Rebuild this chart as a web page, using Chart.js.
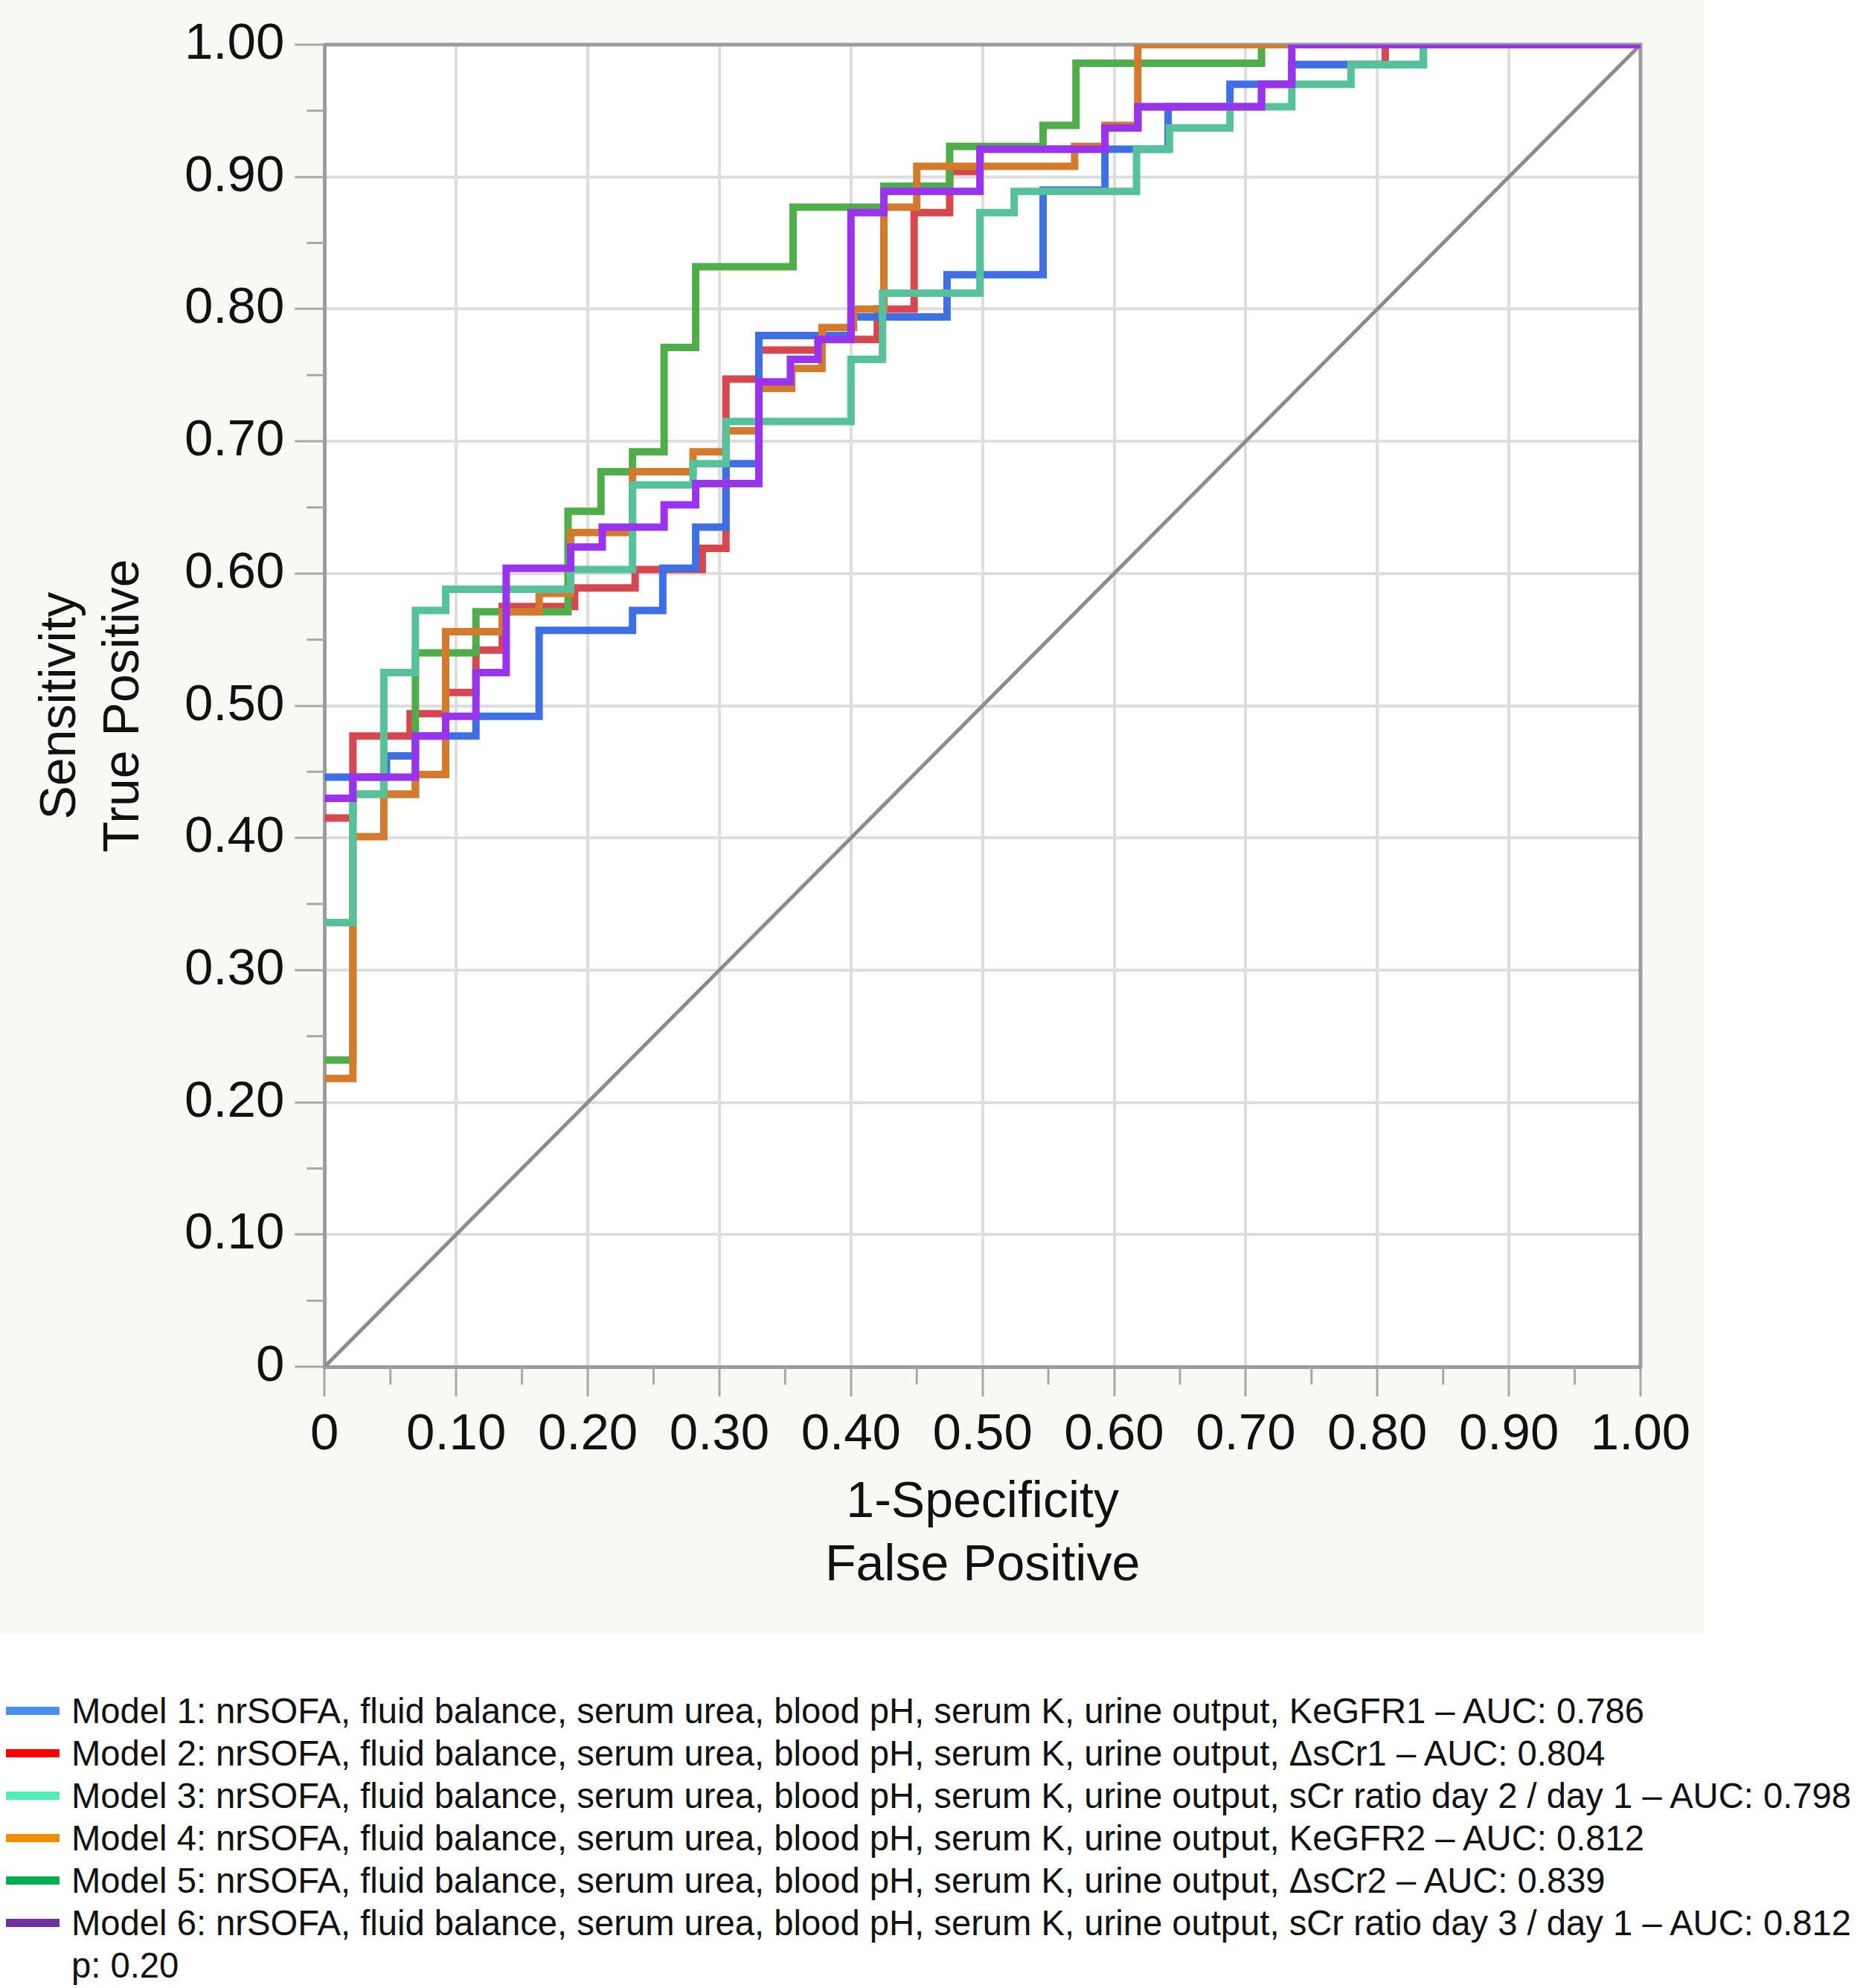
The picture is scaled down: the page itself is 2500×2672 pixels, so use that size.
<!DOCTYPE html>
<html>
<head>
<meta charset="utf-8">
<script src="https://cdn.jsdelivr.net/npm/chart.js@4.4.1/dist/chart.umd.min.js"></script>
<style>
  body { margin: 0; background: #fff; width: 2500px; height: 2672px; position: relative; font-family: "Liberation Sans", Arial, sans-serif; }
  #wrap { position: absolute; left: 0; top: 0; width: 2290px; height: 2195px; }
  #legend { position: absolute; left: 8px; top: 2271px; font-size: 47.2px; color: #111; }
  .legend-row { height: 57px; line-height: 57px; white-space: nowrap; display: flex; align-items: center; }
  .legend-swatch { display: inline-block; width: 72px; height: 11px; margin-right: 16px; }
  .legend-pad { display: inline-block; width: 88px; }
</style>
</head>
<body>
<div id="wrap"><canvas id="roc" width="2290" height="2195"></canvas></div>
<div id="legend"></div>
<script>
// ROC step curves: each x is where a horizontal run at y starts
const m1X = [0, 0.047, 0.069, 0.115, 0.163, 0.234, 0.257, 0.282, 0.305, 0.33, 0.40, 0.473, 0.546, 0.593, 0.641, 0.688, 0.735, 0.835, 1.0];
const m1Y = [0.446, 0.462, 0.477, 0.492, 0.557, 0.572, 0.604, 0.635, 0.683, 0.78, 0.794, 0.826, 0.89, 0.921, 0.953, 0.97, 0.985, 1.0, 1.0];

const m2X = [0, 0.0215, 0.065, 0.092, 0.115, 0.135, 0.19, 0.236, 0.287, 0.305, 0.33, 0.375, 0.42, 0.448, 0.475, 0.498, 0.593, 0.618, 0.712, 0.735, 0.806, 1.0];
const m2Y = [0.415, 0.477, 0.494, 0.51, 0.542, 0.575, 0.589, 0.603, 0.619, 0.747, 0.769, 0.777, 0.8, 0.873, 0.904, 0.921, 0.937, 0.953, 0.97, 0.985, 1.0, 1.0];

const m3X = [0, 0.0215, 0.045, 0.069, 0.092, 0.187, 0.234, 0.28, 0.305, 0.40, 0.424, 0.498, 0.524, 0.617, 0.642, 0.688, 0.735, 0.78, 0.835, 1.0];
const m3Y = [0.336, 0.433, 0.525, 0.572, 0.588, 0.603, 0.667, 0.683, 0.715, 0.762, 0.812, 0.873, 0.889, 0.921, 0.937, 0.953, 0.97, 0.985, 1.0, 1.0];

const m4X = [0, 0.0215, 0.045, 0.069, 0.092, 0.135, 0.163, 0.187, 0.234, 0.28, 0.305, 0.33, 0.355, 0.378, 0.402, 0.425, 0.45, 0.57, 0.593, 0.618, 1.0];
const m4Y = [0.218, 0.401, 0.433, 0.448, 0.556, 0.571, 0.585, 0.631, 0.677, 0.692, 0.708, 0.74, 0.755, 0.786, 0.8, 0.877, 0.908, 0.923, 0.939, 1.0, 1.0];

const m5X = [0, 0.0215, 0.069, 0.115, 0.185, 0.21, 0.234, 0.258, 0.282, 0.356, 0.425, 0.475, 0.546, 0.571, 0.712, 1.0];
const m5Y = [0.232, 0.433, 0.54, 0.571, 0.647, 0.677, 0.692, 0.771, 0.832, 0.877, 0.893, 0.923, 0.939, 0.986, 1.0, 1.0];

const m6X = [0, 0.0215, 0.069, 0.092, 0.115, 0.138, 0.187, 0.211, 0.258, 0.282, 0.33, 0.354, 0.375, 0.40, 0.425, 0.498, 0.593, 0.618, 0.712, 0.735, 1.0];
const m6Y = [0.43, 0.446, 0.477, 0.492, 0.525, 0.604, 0.62, 0.635, 0.652, 0.668, 0.745, 0.762, 0.777, 0.873, 0.889, 0.921, 0.937, 0.953, 0.97, 1.0, 1.0];

const refX = [0, 1];
const refY = [0, 1];

const lineColors = ["#3f6fe4", "#d8474d", "#56c29c", "#d47a2c", "#4fae4a", "#9a33ee"];
const swatchColors = ["#4a8ef2", "#ff0000", "#4cf0b4", "#f28c00", "#00b050", "#7030a0"];
const drawOrder = [3, 5, 1, 2, 4, 0];

const legendLabels = [
  "Model 1: nrSOFA, fluid balance, serum urea, blood pH, serum K, urine output, KeGFR1 – AUC: 0.786",
  "Model 2: nrSOFA, fluid balance, serum urea, blood pH, serum K, urine output, ΔsCr1 – AUC: 0.804",
  "Model 3: nrSOFA, fluid balance, serum urea, blood pH, serum K, urine output, sCr ratio day 2 / day 1 – AUC: 0.798",
  "Model 4: nrSOFA, fluid balance, serum urea, blood pH, serum K, urine output, KeGFR2 – AUC: 0.812",
  "Model 5: nrSOFA, fluid balance, serum urea, blood pH, serum K, urine output, ΔsCr2 – AUC: 0.839",
  "Model 6: nrSOFA, fluid balance, serum urea, blood pH, serum K, urine output, sCr ratio day 3 / day 1 – AUC: 0.812",
];
const footNote = "p: 0.20";

const xTitle = ["1-Specificity", "False Positive"];
const yTitle = ["Sensitivity", "True Positive"];

const series = [[m1X, m1Y], [m2X, m2Y], [m3X, m3Y], [m4X, m4Y], [m5X, m5Y], [m6X, m6Y]];
const toPoints = (xs, ys) => xs.map((x, i) => ({ x, y: ys[i] }));

const datasets = series.map(([xs, ys], i) => ({
  label: "Model " + (i + 1),
  data: toPoints(xs, ys),
  borderColor: lineColors[i],
  backgroundColor: lineColors[i],
  borderWidth: 10,
  stepped: "before",
  pointRadius: 0,
  order: drawOrder[i],
}));

datasets.push({
  label: "reference",
  data: toPoints(refX, refY),
  borderColor: "#8c8c8c",
  borderWidth: 5,
  pointRadius: 0,
  order: 10,
});

const GRID = "#dedede";
const AXIS = "#9c9c9c";

// panel background, white plot area, top/right frame and the 0.05 minor ticks
const decor = {
  id: "decor",
  beforeDraw(chart) {
    const { ctx, chartArea: a } = chart;
    ctx.save();
    ctx.fillStyle = "#f8f9f5";
    ctx.fillRect(0, 0, chart.width, chart.height);
    ctx.fillStyle = "#ffffff";
    ctx.fillRect(a.left, a.top, a.right - a.left, a.bottom - a.top);
    ctx.restore();
  },
  beforeDatasetsDraw(chart) {
    const { ctx, chartArea: a } = chart;
    ctx.save();
    ctx.strokeStyle = AXIS;
    ctx.lineWidth = 5;
    ctx.beginPath();
    ctx.moveTo(a.left, a.top);
    ctx.lineTo(a.right, a.top);
    ctx.lineTo(a.right, a.bottom);
    ctx.stroke();
    ctx.restore();
  },
  afterDraw(chart) {
    const { ctx, chartArea: a, scales } = chart;
    ctx.save();
    ctx.strokeStyle = "#a8a8a8";
    ctx.lineWidth = 3;
    ctx.beginPath();
    for (let k = 0; k < 10; k++) {
      const v = k / 10 + 0.05;
      const px = scales.x.getPixelForValue(v);
      ctx.moveTo(px, a.bottom);
      ctx.lineTo(px, a.bottom + 24);
      const py = scales.y.getPixelForValue(v);
      ctx.moveTo(a.left, py);
      ctx.lineTo(a.left - 24, py);
    }
    ctx.stroke();
    ctx.restore();
  },
};

const tickFont = { family: "'Liberation Sans', Arial, sans-serif", size: 69, lineHeight: 1.0 };
const titleFont = { family: "'Liberation Sans', Arial, sans-serif", size: 68, lineHeight: 1.25 };
const fmt = (v) => (Math.abs(v) < 1e-9 ? "0" : v.toFixed(2));

new Chart(document.getElementById("roc"), {
  type: "line",
  data: { datasets },
  plugins: [decor],
  options: {
    responsive: false,
    devicePixelRatio: 1,
    animation: false,
    layout: { padding: { left: 40, top: 60, right: 85, bottom: 47 } },
    scales: {
      x: {
        type: "linear",
        min: 0,
        max: 1,
        ticks: { stepSize: 0.1, color: "#111", font: tickFont, padding: 17, maxRotation: 0, callback: fmt },
        grid: { color: GRID, lineWidth: 4, tickColor: "#a8a8a8", tickLength: 40, tickWidth: 3 },
        border: { color: AXIS, width: 5 },
        title: { display: true, text: xTitle, color: "#111", font: titleFont, padding: { top: -2, bottom: 0 } },
      },
      y: {
        type: "linear",
        min: 0,
        max: 1,
        ticks: { stepSize: 0.1, color: "#111", font: tickFont, padding: 14, callback: fmt },
        grid: { color: GRID, lineWidth: 4, tickColor: "#a8a8a8", tickLength: 40, tickWidth: 3 },
        border: { color: AXIS, width: 5 },
        title: { display: true, text: yTitle, color: "#111", font: titleFont, padding: { top: 0, bottom: 24 } },
      },
    },
    plugins: {
      legend: { display: false },
      tooltip: { enabled: false },
    },
  },
});

const legendEl = document.getElementById("legend");
legendEl.innerHTML =
  legendLabels
    .map(
      (t, i) =>
        `<div class="legend-row"><span class="legend-swatch" style="background:${swatchColors[i]}"></span><span>${t}</span></div>`
    )
    .join("") + `<div class="legend-row"><span class="legend-pad"></span><span>${footNote}</span></div>`;
</script>
</body>
</html>
